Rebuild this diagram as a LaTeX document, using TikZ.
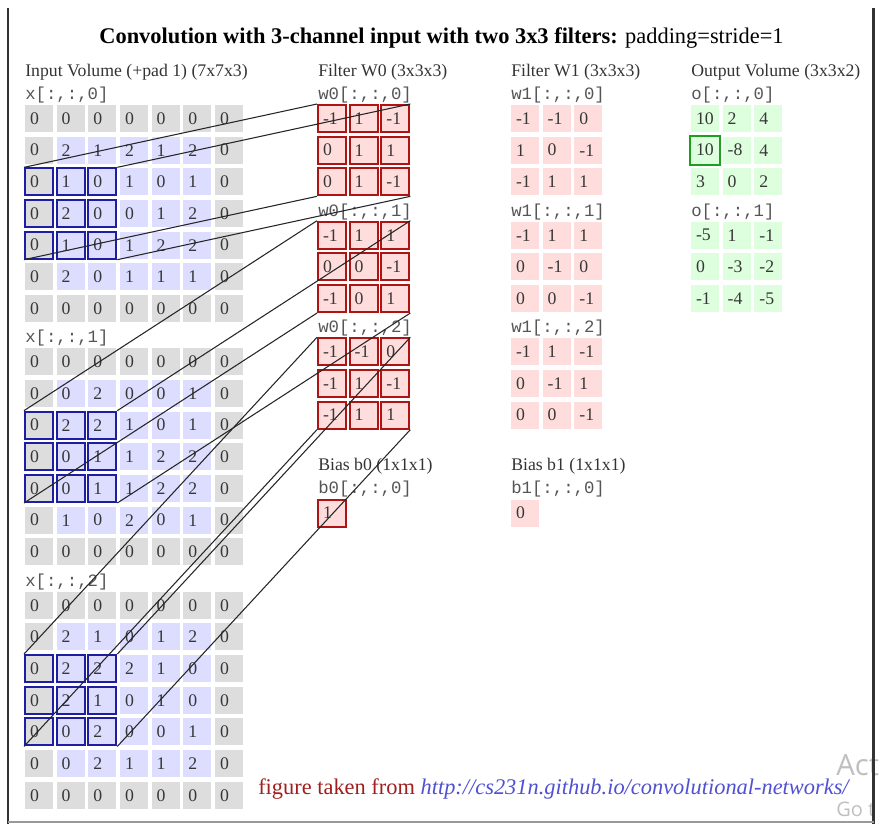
\documentclass[tikz,border=0pt]{standalone}
\usepackage{fontspec}
\setmainfont{Liberation Serif}
\setmonofont{Liberation Mono}
\newfontfamily\wmfont{Open Sans}
\usepackage{tikz}

\definecolor{padgrey}{RGB}{221,221,221}
\definecolor{inblue}{RGB}{221,221,255}
\definecolor{wred}{RGB}{255,221,221}
\definecolor{ogreen}{RGB}{221,255,221}
\definecolor{hlblue}{RGB}{30,30,165}
\definecolor{wborder}{RGB}{175,20,20}
\definecolor{ohlgreen}{RGB}{30,160,30}
\definecolor{cellink}{RGB}{55,55,55}
\definecolor{labgrey}{RGB}{85,85,85}
\definecolor{srcred}{RGB}{160,30,30}
\definecolor{urlblue}{RGB}{80,80,210}

\newcommand{\cellfont}{\fontsize{13.3}{15}\selectfont}
\newcommand{\headfont}{\fontsize{13.3}{15}\selectfont}
\newcommand{\labfont}{\ttfamily\fontsize{13}{15}\selectfont}
\newcommand{\ttlfont}{\fontsize{16.8}{20}\selectfont}

\tikzset{
  cell/.style={rectangle, minimum width=21pt, minimum height=20.25pt, inner xsep=3.75pt,
              inner ysep=0pt, text width=13.5pt, align=left, line width=1.5pt,
              font=\cellfont, text=cellink},
  wcell/.style={cell, fill=wred, draw=wborder},
  pcell/.style={cell, fill=wred, draw=none},
  ocell/.style={cell, fill=ogreen, draw=none},
  header/.style={anchor=west, inner sep=0pt, font=\headfont, text=black!80},
  slicelab/.style={anchor=west, inner sep=0pt, font=\labfont, text=labgrey},
  link/.style={draw=black!85, line width=0.8pt},
  ohl/.style={draw=ohlgreen, line width=1.5pt},
  frame/.style={draw=black!80, line width=2.2pt},
}

% one padded input slice: #1 channel, #2 top, #3 rows
\newcommand{\inslice}[3]{%
  \foreach \row [count=\ri from 0] in {#3} {
    \foreach \v [count=\ci from 0] in \row {
      \def\cfill{inblue}\def\cdraw{none}
      \ifnum\ri=0 \def\cfill{padgrey}\fi
      \ifnum\ri=6 \def\cfill{padgrey}\fi
      \ifnum\ci=0 \def\cfill{padgrey}\fi
      \ifnum\ci=6 \def\cfill{padgrey}\fi
      \ifnum\ri>1 \ifnum\ri<5 \ifnum\ci<3 \def\cdraw{hlblue}\fi\fi\fi
      \node[cell, fill=\cfill, draw=\cdraw] (x-#1-\ri-\ci)
        at ({39+\ci*31.67},{#2+13.5+\ri*31.67}) {\v};
    }
  }%
}
% 3x3 slice: #1 name, #2 left, #3 top, #4 style, #5 rows
\newcommand{\smallslice}[5]{%
  \foreach \row [count=\ri from 0] in {#5} {
    \foreach \v [count=\ci from 0] in \row {
      \node[#4] (#1-\ri-\ci) at ({#2+14+\ci*31.67},{#3+13.5+\ri*31.67}) {\v};
    }
  }%
}

\begin{document}
\begin{tikzpicture}[x=0.75pt, y=-0.75pt]
  \useasboundingbox (0,0) rectangle (881,824);

  % title and column heads
  \node[font=\ttlfont, inner sep=0pt] (title) at (441.5,38)
    {\textbf{Convolution with 3-channel input with two 3x3 filters:} padding=stride=1};
  \node[header] (hin) at (25,72.7) {Input Volume (+pad 1) (7x7x3)};
  \node[header] (hw0) at (318,72.7) {Filter W0 (3x3x3)};
  \node[header] (hw1) at (511,72.7) {Filter W1 (3x3x3)};
  \node[header] (hout) at (691,72.7) {Output Volume (3x3x2)};

  % input volume
  \node[slicelab] (xl0) at (25,95) {x[:,:,0]};
  \inslice{0}{105}{{0,0,0,0,0,0,0},{0,2,1,2,1,2,0},{0,1,0,1,0,1,0},{0,2,0,0,1,2,0},
    {0,1,0,1,2,2,0},{0,2,0,1,1,1,0},{0,0,0,0,0,0,0}}
  \node[slicelab] (xl1) at (25,338.3) {x[:,:,1]};
  \inslice{1}{348.3}{{0,0,0,0,0,0,0},{0,0,2,0,0,1,0},{0,2,2,1,0,1,0},{0,0,1,1,2,2,0},
    {0,0,1,1,2,2,0},{0,1,0,2,0,1,0},{0,0,0,0,0,0,0}}
  \node[slicelab] (xl2) at (25,581.7) {x[:,:,2]};
  \inslice{2}{591.7}{{0,0,0,0,0,0,0},{0,2,1,0,1,2,0},{0,2,2,2,1,0,0},{0,2,1,0,1,0,0},
    {0,0,2,0,0,1,0},{0,0,2,1,1,2,0},{0,0,0,0,0,0,0}}

  % filter W0
  \node[slicelab] (wl00) at (318,95) {w0[:,:,0]};
  \smallslice{w0-0}{318}{105}{wcell}{{-1,1,-1},{0,1,1},{0,1,-1}}
  \node[slicelab] (wl01) at (318,211.7) {w0[:,:,1]};
  \smallslice{w0-1}{318}{221.7}{wcell}{{-1,1,1},{0,0,-1},{-1,0,1}}
  \node[slicelab] (wl02) at (318,328.3) {w0[:,:,2]};
  \smallslice{w0-2}{318}{338.3}{wcell}{{-1,-1,0},{-1,1,-1},{-1,1,1}}

  % filter W1
  \node[slicelab] (wl10) at (511,95) {w1[:,:,0]};
  \smallslice{w1-0}{511}{105}{pcell}{{-1,-1,0},{1,0,-1},{-1,1,1}}
  \node[slicelab] (wl11) at (511,211.7) {w1[:,:,1]};
  \smallslice{w1-1}{511}{221.7}{pcell}{{-1,1,1},{0,-1,0},{0,0,-1}}
  \node[slicelab] (wl12) at (511,328.3) {w1[:,:,2]};
  \smallslice{w1-2}{511}{338.3}{pcell}{{-1,1,-1},{0,-1,1},{0,0,-1}}

  % output volume
  \node[slicelab] (ol0) at (691,95) {o[:,:,0]};
  \smallslice{o-0}{691}{105}{ocell}{{10,2,4},{10,-8,4},{3,0,2}}
  \node[slicelab] (ol1) at (691,211.7) {o[:,:,1]};
  \smallslice{o-1}{691}{221.7}{ocell}{{-5,1,-1},{0,-3,-2},{-1,-4,-5}}
  \draw[ohl] (o-0-1-0.north west) rectangle (o-0-1-0.south east);

  % biases
  \node[header] (hb0) at (318,466) {Bias b0 (1x1x1)};
  \node[slicelab] (bl0) at (318,489) {b0[:,:,0]};
  \node[wcell] (b0) at (332,513) {1};
  \node[header] (hb1) at (511,466) {Bias b1 (1x1x1)};
  \node[slicelab] (bl1) at (511,489) {b1[:,:,0]};
  \node[pcell] (b1) at (525,513) {0};

  % receptive field -> filter
  \foreach \ch in {0,1,2} {
    \draw[link] (x-\ch-2-0.north west) -- (w0-\ch-0-0.north west);
    \draw[link] (x-\ch-2-2.north east) -- (w0-\ch-0-2.north east);
    \draw[link] (x-\ch-4-0.south west) -- (w0-\ch-2-0.south west);
    \draw[link] (x-\ch-4-2.south east) -- (w0-\ch-2-2.south east);
  }

  % source line
  \node[anchor=west, inner sep=0pt, font=\ttlfont] (src) at (258,789)
    {\textcolor{srcred}{figure taken from} \textcolor{urlblue}{\itshape http://cs231n.github.io/convolutional-networks/}};

  % screen watermark
  \node[anchor=west, inner sep=0pt, text=black!25, font=\wmfont\fontsize{22}{24}\selectfont] (act) at (836,765) {Act};
  \node[anchor=west, inner sep=0pt, text=black!25, font=\wmfont\fontsize{15}{17}\selectfont] (got) at (836,809) {Go t};

  % page frame
  \draw[frame] (8,8) -- (8,824);
  \draw[frame] (873.5,8) -- (873.5,824);
  \draw[draw=black!40, line width=1.2pt] (8,822) -- (873.5,822);
\end{tikzpicture}
\end{document}
